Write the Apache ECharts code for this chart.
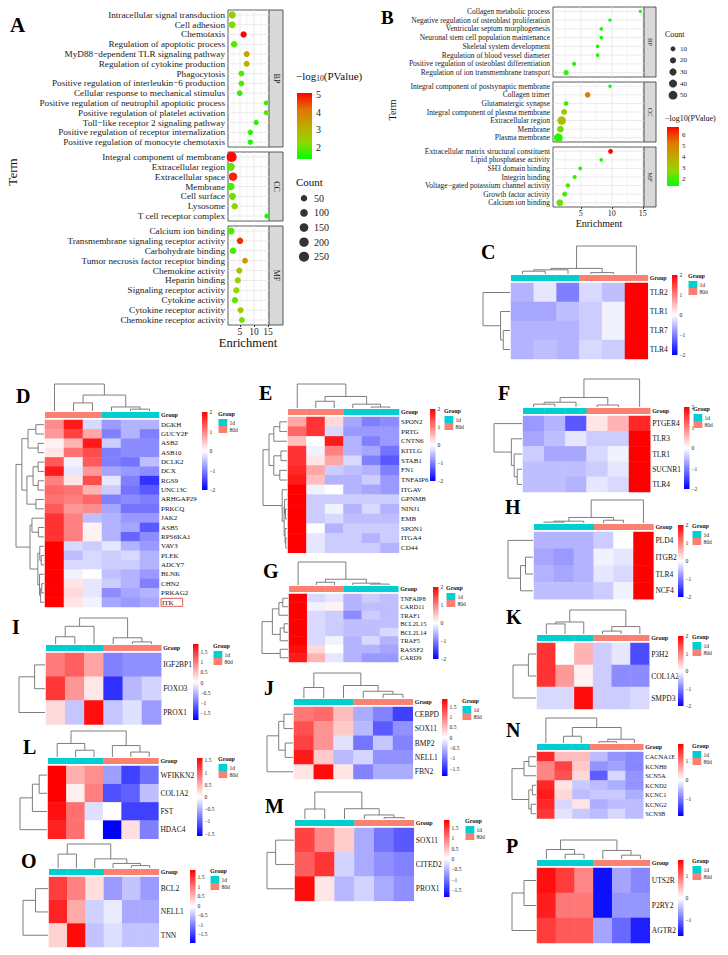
<!DOCTYPE html>
<html>
<head>
<meta charset="utf-8">
<script src="https://cdn.jsdelivr.net/npm/echarts@6/dist/echarts.min.js"></script>
<style>
  html, body { margin: 0; padding: 0; background: #fff; }
  #main { width: 728px; height: 955px; }
</style>
</head>
<body>
<div id="main"></div>
<script>
// ---------------- A: GO enrichment ----------------
var aBPTerms = ['Intracellular signal transduction', 'Cell adhesion', 'Chemotaxis', 'Regulation of apoptotic process',
    'MyD88\u2212dependent TLR signaling pathway', 'Regulation of cytokine production', 'Phagocytosis',
    'Positive regulation of interleukin\u22126 production', 'Cellular response to mechanical stimulus',
    'Positive regulation of neutrophil apoptotic process', 'Positive regulation of platelet activation',
    'Toll\u2212like receptor 2 signaling pathway', 'Positive regulation of receptor internalization',
    'Positive regulation of monocyte chemotaxis'];
var aBPEnrich = [2.2, 2.2, 6.3, 2.9, 7.4, 7.4, 5.5, 5.5, 4.9, 14.4, 14.4, 10.8, 8.7, 8.7];
var aBPCount = [80, 70, 45, 55, 35, 35, 30, 30, 28, 12, 12, 18, 20, 20];
var aBPLogP = [2.6, 2.2, 5.2, 1.9, 3.3, 3.0, 1.9, 1.9, 1.7, 1.7, 1.9, 1.6, 1.6, 1.5];

var aCCTerms = ['Integral component of membrane', 'Extracellular region', 'Extracellular space', 'Membrane',
    'Cell surface', 'Lysosome', 'T cell receptor complex'];
var aCCEnrich = [2.0, 1.7, 2.5, 1.7, 2.3, 3.1, 14.6];
var aCCCount = [250, 115, 140, 90, 70, 50, 13];
var aCCLogP = [5.0, 2.0, 4.8, 1.8, 2.1, 2.4, 1.5];

var aMFTerms = ['Calcium ion binding', 'Transmembrane signaling receptor activity', 'Carbohydrate binding',
    'Tumor necrosis factor receptor binding', 'Chemokine activity', 'Heparin binding', 'Signaling receptor activity',
    'Cytokine activity', 'Cytokine receptor activity', 'Chemokine receptor activity'];
var aMFEnrich = [1.8, 5.0, 2.5, 6.8, 4.75, 4.2, 3.7, 3.2, 5.2, 5.7];
var aMFCount = [70, 50, 55, 30, 40, 40, 45, 45, 35, 30];
var aMFLogP = [1.9, 4.7, 1.8, 3.5, 2.7, 2.5, 2.3, 2.0, 2.6, 2.1];

var aSizeLegend = [50, 100, 150, 200, 250];
var aColorTicks = [2, 3, 4, 5];

// ---------------- B: GO enrichment ----------------
var bBPTerms = ['Collagen metabolic process', 'Negative regulation of osteoblast proliferation',
    'Ventricular septum morphogenesis', 'Neuronal stem cell population maintenance', 'Skeletal system development',
    'Regulation of blood vessel diameter', 'Positive regulation of osteoblast differentiation',
    'Regulation of ion transmembrane transport'];
var bBPEnrich = [14.6, 9.7, 8.3, 8.3, 7.7, 7.7, 3.9, 2.6];
var bBPCount = [2, 2, 3, 3, 3, 3, 5, 12];
var bBPLogP = [1.5, 1.4, 1.5, 1.5, 1.6, 1.6, 1.7, 1.8];

var bCCTerms = ['Integral component of postsynaptic membrane', 'Collagen trimer', 'Glutamatergic synapse',
    'Integral component of plasma membrane', 'Extracellular region', 'Membrane', 'Plasma membrane'];
var bCCEnrich = [9.7, 6.1, 2.6, 2.3, 1.9, 1.7, 1.35];
var bCCCount = [2, 14, 8, 18, 48, 26, 50];
var bCCLogP = [1.4, 5.2, 1.9, 3.0, 3.4, 2.4, 1.7];

var bMFTerms = ['Extracellular matrix structural constituent', 'Lipid phosphatase activity', 'SH3 domain binding',
    'Integrin binding', 'Voltage\u2212gated potassium channel activity', 'Growth factor activity', 'Calcium ion binding'];
var bMFEnrich = [9.8, 8.3, 4.9, 4.0, 2.9, 2.4, 1.6];
var bMFCount = [9, 3, 4, 5, 7, 10, 25];
var bMFLogP = [6.6, 1.6, 1.6, 1.8, 2.0, 1.9, 2.3];

var bSizeLegend = [10, 20, 30, 40, 50];
var bColorTicks = [2, 3, 4, 5, 6];

// ---------------- heatmaps ----------------
var g1d = ['1d', '1d', '1d', '80d', '80d', '80d'];
var g80 = ['80d', '80d', '80d', '1d', '1d', '1d'];
var ticks2 = [2, 1, 0, -1, -2];
var ticks15 = [1.5, 1, 0.5, 0, -0.5, -1, -1.5];
var ticks1 = [1, 0, -1];

var cRows = ['TLR2', 'TLR1', 'TLR7', 'TLR4'];
var cVals = [[-0.6, -0.2, -1.0, -0.3, -0.5, 2.0], [-0.7, -0.7, -0.5, -0.4, -0.1, 2.0],
    [-0.6, -0.6, -0.6, -0.4, -0.1, 2.0], [-0.6, -0.5, -0.6, -0.3, -0.4, 2.0]];
var cColTree = [[[[0, 1, 0.1], 2, 0.15], [3, 4, 0.05], 0.2], 5, 1];
var cRowTree = [0, [1, [2, 3, 0.25], 0.35], 1];

var dRows = ['DGKH', 'GUCY2F', 'ASB2', 'ASB10', 'DCLK2', 'DCX', 'RGS9', 'UNC13C', 'ARHGAP29', 'PRKCQ',
    'JAK2', 'ASB5', 'RPS6KA1', 'VAV3', 'PLEK', 'ADCY7', 'BLNK', 'CHN2', 'PRKAG2', 'ITK'];
var dVals = [[0.9, 1.8, -0.3, -0.8, -0.6, -0.6], [0.8, 1.5, 0.7, -1.0, -0.6, -1.0], [0.1, 0.6, 1.8, -0.4, -0.9, -0.9],
    [0.2, 1.1, 1.4, -1.0, -0.9, -0.9], [1.3, -0.1, 1.3, -1.0, -1.1, -0.5], [1.8, -0.2, 0.8, -0.7, -0.8, -0.9],
    [1.0, 0.2, 1.4, -0.2, -1.0, -1.6], [1.2, 1.1, 0.6, -0.4, -1.1, -1.3], [1.1, 1.0, 1.2, -1.0, -0.9, -1.0],
    [1.3, 0.8, 0.9, -0.7, -1.1, -1.1], [1.6, 1.0, -0.5, -0.6, -0.8, -0.8], [1.6, 1.0, 0.1, -0.6, -0.7, -1.3],
    [1.6, 1.0, 0.1, -0.6, -1.2, -0.9], [2.0, -0.3, -0.4, -0.2, -0.6, -0.8], [2.0, -0.5, -0.3, -0.4, -0.3, -0.6],
    [2.0, -0.3, -0.3, -0.4, -0.4, -0.6], [2.0, -0.1, 0.0, -0.5, -0.6, -0.8], [2.0, 0.2, -0.2, -0.4, -0.6, -1.0],
    [2.0, 0.3, -0.2, -0.9, -0.7, -0.6], [2.0, 0.2, -0.1, -0.7, -0.8, -0.7]];
var dColTree = [0, [[1, 2, 0.3], [3, [4, 5, 0.07], 0.15], 0.59], 1];
var dRowTree = [[[[0, 1, 0.29], [2, 3, 0.21], 0.57], [[[4, 5, 0.21], [6, 7, 0.21], 0.39], [8, 9, 0.29], 0.61], 0.79],
    [[10, [11, 12, 0.2], 0.43], [[13, [14, 15, 0.1], 0.15], [16, [[17, 18, 0.08], 19, 0.12], 0.16], 0.22], 0.5], 1];

var eRows = ['SPON2', 'PRTG', 'CNTN6', 'KITLG', 'STAB1', 'FN1', 'TNFAIP6', 'ITGAV', 'GPNMB', 'NINJ1', 'EMB',
    'SPON1', 'ITGA4', 'CD44'];
var eVals = [[0.7, 1.6, 0.3, -0.7, -1.0, -0.9], [1.2, 1.6, -0.3, -0.8, -0.8, -0.8], [0.5, 0.0, 1.8, -0.6, -1.0, -0.8],
    [1.6, -0.1, 1.0, -0.6, -0.7, -1.1], [1.6, 0.2, 0.7, -0.3, -1.0, -1.3], [1.7, 0.7, -0.4, -0.5, -0.6, -1.0],
    [1.8, 0.5, -0.6, -0.6, -0.4, -0.8], [2.0, -0.1, 0.0, -0.6, -0.7, -0.8], [2.0, -0.4, -0.4, -0.4, -0.4, -0.4],
    [2.0, -0.4, -0.1, -0.6, -0.3, -0.6], [2.0, -0.4, -0.3, -0.5, -0.5, -0.5], [2.0, 0.0, -0.6, -0.4, -0.4, -0.4],
    [2.0, -0.2, -0.4, -0.4, -0.6, -0.4], [2.0, -0.2, -0.4, -0.4, -0.4, -0.6]];
var eColTree = [0, [[1, 2, 0.28], [3, [4, 5, 0.04], 0.16], 0.48], 1];
var eRowTree = [[[[0, 1, 0.3], 2, 0.55], [[3, 4, 0.25], [5, 6, 0.3], 0.55], 0.75],
    [7, [[8, [9, 10, 0.06], 0.1], [11, [12, 13, 0.05], 0.08], 0.12], 0.2], 1];

var fRows = ['PTGER4', 'TLR3', 'TLR1', 'SUCNR1', 'TLR4'];
var fVals = [[-0.8, -0.6, -1.3, 0.2, 0.6, 1.7], [-0.7, -0.5, -0.2, -0.4, -0.4, 2.0], [-0.4, -0.7, -0.7, -0.3, -0.1, 2.0],
    [-0.5, -0.5, -0.5, -0.4, -0.2, 2.0], [-0.5, -0.5, -0.6, -0.2, -0.3, 2.0]];
var fColTree = [[[[0, 1, 0.1], 2, 0.17], [3, 4, 0.07], 0.34], 5, 1];
var fRowTree = [0, [1, [2, [3, 4, 0.17], 0.28], 0.38], 1];

var gRows = ['TNFAIP8', 'CARD11', 'TRAF1', 'BCL2L15', 'BCL2L14', 'TRAF5', 'RASSF2', 'CARD9'];
var gVals = [[2.0, -0.3, -0.2, -0.6, -0.4, -0.5], [2.0, -0.1, 0.1, -0.6, -0.5, -0.5], [2.0, -0.3, -0.4, -0.9, -0.4, -0.5],
    [2.0, -0.3, -0.4, -0.5, -0.5, -0.5], [2.0, -0.3, -0.4, -0.5, -0.5, -0.3], [2.0, -0.3, -0.1, -0.6, -0.3, -0.6],
    [1.9, 0.3, 0.0, -0.6, -0.6, -0.7], [1.8, 0.6, -0.2, -0.6, -0.8, -0.8]];
var gColTree = [0, [[1, 2, 0.12], [3, [4, 5, 0.04], 0.08], 0.25], 1];
var gRowTree = [[[[0, 1, 0.2], 2, 0.35], [[3, 4, 0.15], 5, 0.3], 0.6], [6, 7, 0.3], 1];

var hRows = ['PLD4', 'ITGB2', 'TLR4', 'NCF4'];
var hVals = [[-0.6, -0.6, -0.6, -0.4, 0.0, 2.0], [-0.7, -0.8, -0.6, -0.1, -0.2, 2.0],
    [-0.6, -0.7, -0.6, -0.2, -0.3, 2.0], [-0.5, -0.5, -0.5, -0.4, -0.1, 2.0]];
var hColTree = [[[[0, 1, 0.04], 2, 0.08], [3, 4, 0.12], 0.24], 5, 1];
var hRowTree = [0, [[1, 2, 0.3], 3, 0.5], 1];

var iRows = ['IGF2BP1', 'FOXO3', 'PROX1'];
var iVals = [[1.0, 1.2, 0.7, -0.9, -0.8, -0.8], [1.5, 0.8, 0.2, -1.5, -0.5, -0.3], [0.3, -0.4, 1.8, -0.4, -0.2, -0.7]];
var iColTree = [[[0, 1, 0.28], 2, 0.68], [3, [4, 5, 0.08], 0.24], 1];
var iRowTree = [[0, 1, 0.4], 2, 1];

var jRows = ['CEBPD', 'SOX11', 'BMP2', 'NELL1', 'FBN2'];
var jVals = [[1.0, 1.1, 0.5, -0.6, -0.9, -1.4], [1.3, 0.8, 0.4, -0.5, -1.2, -0.8], [1.4, 0.8, -0.2, -1.0, -0.4, -0.9],
    [1.7, 0.4, -0.5, -0.3, -0.8, -0.8], [0.2, 1.8, 0.2, -0.9, -0.6, -0.6]];
var jColTree = [[0, 1, 0.42], [2, [3, [4, 5, 0.15], 0.27], 0.5], 1];
var jRowTree = [[[0, 1, 0.35], [2, 3, 0.3], 0.55], 4, 1];

var kRows = ['P3H2', 'COL1A2', 'SMPD3'];
var kVals = [[1.6, 0.0, 0.6, -0.4, -0.2, -1.4], [1.6, 0.8, 0.1, -0.4, -0.9, -0.9], [-0.3, -0.3, 1.9, -0.4, -0.4, -0.3]];
var kColTree = [[[0, 1, 0.42], 2, 0.5], [[3, 4, 0.12], 5, 0.31], 1];
var kRowTree = [[0, 1, 0.33], 2, 1];

var lRows = ['WFIKKN2', 'COL1A2', 'FST', 'HDAC4'];
var lVals = [[1.6, 0.5, 0.7, -0.6, -1.2, -0.9], [1.6, 0.1, 0.8, -1.1, -1.0, -0.4], [1.5, 0.9, -0.2, 0.0, -1.2, -1.2],
    [1.4, 0.9, 0.0, -1.6, 0.2, -0.8]];
var lColTree = [[0, [1, 2, 0.26], 0.52], [3, [4, 5, 0.19], 0.44], 1];
var lRowTree = [[[0, 1, 0.29], 2, 0.54], 3, 1];

var mRows = ['SOX11', 'CITED2', 'PROX1'];
var mVals = [[1.4, 0.9, 0.4, -0.6, -1.0, -1.2], [1.2, 1.5, -0.3, -0.6, -0.8, -0.9], [1.8, 0.2, -0.5, -0.3, -0.6, -0.8]];
var mColTree = [[0, 1, 0.37], [2, [3, [4, 5, 0.05], 0.15], 0.38], 1];
var mRowTree = [[0, 1, 0.68], 2, 1];

var nRows = ['CACNA1E', 'KCNH6', 'SCN5A', 'KCND2', 'KCNC1', 'KCNG2', 'SCN3B'];
var nVals = [[1.6, 0.5, 0.5, -0.5, -0.8, -0.9], [0.9, 1.4, 0.4, -0.8, -0.7, -0.9], [0.9, 1.3, 0.3, -1.2, -0.3, -0.8],
    [1.6, 0.2, -0.4, -0.5, -0.6, -0.8], [1.7, 0.3, -0.5, -0.4, -0.4, -0.6], [1.6, -0.3, 0.2, -0.6, -0.5, -0.5],
    [1.5, -0.2, -0.4, -0.5, -0.3, -0.5]];
var nColTree = [0, [[1, 2, 0.27], [[3, 4, 0.05], 5, 0.15], 0.62], 1];
var nRowTree = [[[0, 1, 0.3], 2, 0.5], [[3, 4, 0.15], [5, 6, 0.2], 0.3], 1];

var oRows = ['BCL2', 'NELL1', 'TNN'];
var oVals = [[1.4, 0.9, 0.2, -0.8, -0.5, -0.8], [1.6, 0.6, -0.4, -0.2, -0.7, -0.7], [0.3, 1.8, -0.5, -0.3, -0.5, -0.5]];
var oColTree = [[0, 1, 0.58], [2, [3, [4, 5, 0.1], 0.19], 0.38], 1];
var oRowTree = [[0, 1, 0.5], 2, 1];

var pRows = ['UTS2R', 'P2RY2', 'AGTR2'];
var pVals = [[1.6, 1.3, 0.8, -1.6, -0.6, -0.8], [1.5, 0.9, 0.9, -1.6, -0.7, -0.7], [1.3, 1.1, 1.1, -0.6, -1.0, -1.5]];
var pColTree = [[0, [1, 2, 0.25], 0.5], [3, [4, 5, 0.2], 0.45], 1];
var pRowTree = [[0, 1, 0.5], 2, 1];

// ---------------- builder ----------------
var SERIF = '"Liberation Serif", "Times New Roman", serif';
var GREEN_RED = ['#00FF00', '#8FD800', '#BFA900', '#E27400', '#FF0000'];
var BWR = ['#0000FF', '#FFFFFF', '#FF0000'];
var GROUP_COL = ['#00CED1', '#FA8072'];

var grids = [], xAxes = [], yAxes = [], series = [], visualMaps = [], graphics = [];

function addGrid(g) {
    g.containLabel = false;
    grids.push(g);
    return grids.length - 1;
}
function txt(x, y, s, o) {
    o = o || {};
    graphics.push({
        type: 'text', x: x, y: y, rotation: o.rot || 0, silent: true,
        style: {
            text: s, fill: o.color || '#111', fontFamily: SERIF, fontSize: o.fs || 10,
            fontWeight: o.bold ? 'bold' : 'normal', align: o.align || 'left', verticalAlign: o.va || 'top',
            rich: o.rich
        }
    });
}
function gradStops(cols) {
    return cols.map(function (c, i) { return {offset: i / (cols.length - 1), color: c}; });
}
function gradientBar(cols) {
    return function (params, api) {
        var cs = params.coordSys;
        return {
            type: 'rect', shape: {x: cs.x, y: cs.y, width: cs.width, height: cs.height},
            style: {fill: new echarts.graphic.LinearGradient(0, 1, 0, 0, gradStops(cols))}
        };
    };
}
function gridLineItem(params, api) {
    var cs = params.coordSys, k = api.value(2);
    if (k === 2) {
        var y = api.coord([api.value(0), api.value(1)])[1];
        return {type: 'line', shape: {x1: cs.x, y1: y, x2: cs.x + cs.width, y2: y}, style: {stroke: '#e6e6e6', lineWidth: 0.8}};
    }
    var x = api.coord([api.value(0), 0])[0];
    return {type: 'line', shape: {x1: x, y1: cs.y, x2: x, y2: cs.y + cs.height},
        style: {stroke: '#e6e6e6', lineWidth: k === 0 ? 0.8 : 0.4}};
}
function bandRect(params, api) {
    var c = api.coord([api.value(0), api.value(1)]);
    var s = api.size([1, 1]);
    return {type: 'rect', shape: {x: c[0] - s[0] / 2, y: c[1] - s[1] / 2, width: s[0] + 0.3, height: s[1]},
        style: {fill: GROUP_COL[api.value(2)]}};
}
function segItem(params, api) {
    var a = api.coord([api.value(0), api.value(1)]);
    var b = api.coord([api.value(2), api.value(3)]);
    return {type: 'line', shape: {x1: a[0], y1: a[1], x2: b[0], y2: b[1]}, style: {stroke: '#707070', lineWidth: 0.9}};
}
function treeSegs(tree) {
    var segs = [];
    function walk(node) {
        if (typeof node === 'number') return {pos: node, h: 0};
        var a = walk(node[0]), b = walk(node[1]), h = node[2];
        segs.push([a.pos, a.h, a.pos, h]);
        segs.push([b.pos, b.h, b.pos, h]);
        segs.push([a.pos, h, b.pos, h]);
        return {pos: (a.pos + b.pos) / 2, h: h};
    }
    walk(tree);
    return segs;
}

// one facet of a dot plot, with its grey strip
function dotFacet(f, scatterIdx) {
    var gi = addGrid({left: f.left, top: f.top, width: f.width, height: f.height, show: true,
        backgroundColor: '#fff', borderColor: '#333', borderWidth: 0.8});
    xAxes.push({gridIndex: gi, type: 'value', min: f.xMin, max: f.xMax, splitLine: {show: false},
        axisLine: {show: false},
        axisTick: {show: !!f.bottom, customValues: [5, 10, 15], length: 2, lineStyle: {color: '#333'}},
        axisLabel: {show: !!f.bottom, customValues: [5, 10, 15], fontFamily: SERIF, fontSize: f.tickFs,
            color: '#222', margin: 2}});
    yAxes.push({gridIndex: gi, type: 'category', inverse: true, data: f.terms, axisLine: {show: false},
        axisTick: {length: 2, alignWithLabel: true, interval: 0, lineStyle: {color: '#333', width: 0.8}},
        axisLabel: {interval: 0, fontFamily: SERIF, fontSize: f.fs, color: '#1a1a1a', margin: 3},
        splitLine: {show: false}});
    var gl = [];
    [2.5, 7.5, 12.5].forEach(function (v) { gl.push([v, 0, 1]); });
    [5, 10, 15].forEach(function (v) { gl.push([v, 0, 0]); });
    f.terms.forEach(function (t, i) { gl.push([f.xMin, i, 2]); });
    series.push({type: 'custom', xAxisIndex: gi, yAxisIndex: gi, silent: true, z: 1, data: gl,
        encode: {x: 0, y: 1}, renderItem: gridLineItem});
    var pts = f.terms.map(function (t, i) { return [f.x[i], i, f.count[i], f.logp[i]]; });
    scatterIdx.push(series.length);
    series.push({type: 'scatter', xAxisIndex: gi, yAxisIndex: gi, z: 3, data: pts,
        symbolSize: function (v) { return f.size(v[2]); }, itemStyle: {opacity: 1}});
    // strip
    var si = addGrid({left: f.left + f.width, top: f.top, width: f.stripW, height: f.height, show: true,
        backgroundColor: '#d9d9d9', borderColor: '#333', borderWidth: 0.8});
    xAxes.push({gridIndex: si, type: 'value', show: false});
    yAxes.push({gridIndex: si, type: 'value', show: false});
    txt(f.left + f.width + f.stripW / 2, f.top + f.height / 2, f.facet,
        {fs: f.stripFs, color: '#1a1a1a', align: 'center', va: 'middle', rot: -Math.PI / 2});
}

function colorBar(left, top, w, h, min, max, ticks, cols, fs, margin) {
    var ci = addGrid({left: left, top: top, width: w, height: h});
    xAxes.push({gridIndex: ci, type: 'value', min: 0, max: 1, show: false});
    yAxes.push({gridIndex: ci, type: 'value', min: min, max: max, position: 'right',
        axisLine: {show: false}, axisTick: {show: false}, splitLine: {show: false},
        axisLabel: {customValues: ticks, fontFamily: SERIF, fontSize: fs, color: '#222', margin: margin,
            formatter: function (v) { return String(v).replace('-', '\u2212'); }}});
    series.push({type: 'custom', xAxisIndex: ci, yAxisIndex: ci, silent: true, data: [[0.5, min]],
        renderItem: gradientBar(cols)});
}

function sizeLegend(left, top, w, h, vals, sizeFn, fs, margin) {
    var li = addGrid({left: left, top: top, width: w, height: h});
    xAxes.push({gridIndex: li, type: 'value', min: -1, max: 1, show: false});
    yAxes.push({gridIndex: li, type: 'category', inverse: true, position: 'right', data: vals.map(String),
        axisLine: {show: false}, axisTick: {show: false},
        axisLabel: {interval: 0, fontFamily: SERIF, fontSize: fs, color: '#222', margin: margin}});
    series.push({type: 'scatter', xAxisIndex: li, yAxisIndex: li, silent: true,
        data: vals.map(function (v, i) { return [0, i, v]; }),
        symbolSize: function (v) { return sizeFn(v[2]); }, itemStyle: {color: '#000'}});
}

function heatPanel(name, L, rows, vals, groups, colTree, rowTree, cbMin, cbMax, ticks, boxed) {
    var n = rows.length, W = 6 * L.cw, H = n * L.ch;
    var cols = ['c1', 'c2', 'c3', 'c4', 'c5', 'c6'];
    txt(L.lbl[0], L.lbl[1], name, {fs: 20, bold: true, color: '#000'});
    // cells
    var gi = addGrid({left: L.left, top: L.top, width: W, height: H});
    xAxes.push({gridIndex: gi, type: 'category', data: cols, show: false});
    yAxes.push({gridIndex: gi, type: 'category', data: rows, inverse: true, position: 'right',
        axisLine: {show: false}, axisTick: {show: false}, splitLine: {show: false},
        axisLabel: {interval: 0, fontFamily: SERIF, fontSize: L.fs, color: '#111', margin: 2,
            formatter: function (v) { return v === boxed ? '{box|' + v + '}' : v; },
            rich: {box: {fontFamily: SERIF, fontSize: L.fs, color: '#111', borderColor: '#e0302a', borderWidth: 0.8,
                padding: [1, 9, 0, 1]}}}});
    var cells = [];
    vals.forEach(function (r, ri) { r.forEach(function (v, c) { cells.push([c, ri, v]); }); });
    visualMaps.push({type: 'continuous', show: false, seriesIndex: series.length, dimension: 2,
        min: cbMin, max: cbMax, inRange: {color: BWR}});
    series.push({type: 'heatmap', xAxisIndex: gi, yAxisIndex: gi, data: cells, silent: true,
        itemStyle: {borderWidth: 0}});
    // group annotation bar
    var bi = addGrid({left: L.left, top: L.top - 8, width: W, height: 6});
    xAxes.push({gridIndex: bi, type: 'category', data: cols, show: false});
    yAxes.push({gridIndex: bi, type: 'category', data: ['Group'], position: 'right',
        axisLine: {show: false}, axisTick: {show: false},
        axisLabel: {interval: 0, fontFamily: SERIF, fontSize: 6, fontWeight: 'bold', color: '#111', margin: 2}});
    series.push({type: 'custom', xAxisIndex: bi, yAxisIndex: bi, silent: true,
        data: groups.map(function (g, c) { return [c, 0, g === '1d' ? 0 : 1]; }), renderItem: bandRect});
    // column dendrogram
    var ci = addGrid({left: L.left, top: L.dTop, width: W, height: (L.top - 9) - L.dTop});
    xAxes.push({gridIndex: ci, type: 'value', min: -0.5, max: 5.5, show: false});
    yAxes.push({gridIndex: ci, type: 'value', min: 0, max: 1, show: false});
    series.push({type: 'custom', xAxisIndex: ci, yAxisIndex: ci, silent: true, data: treeSegs(colTree),
        encode: {x: [0, 2], y: [1, 3]}, renderItem: segItem});
    // row dendrogram
    var ri = addGrid({left: L.rdLeft, top: L.top, width: L.left - 1 - L.rdLeft, height: H});
    xAxes.push({gridIndex: ri, type: 'value', min: 0, max: 1, inverse: true, show: false});
    yAxes.push({gridIndex: ri, type: 'value', min: -0.5, max: n - 0.5, inverse: true, show: false});
    series.push({type: 'custom', xAxisIndex: ri, yAxisIndex: ri, silent: true,
        data: treeSegs(rowTree).map(function (s) { return [s[1], s[0], s[3], s[2]]; }),
        encode: {x: [0, 2], y: [1, 3]}, renderItem: segItem});
    // colour key
    colorBar(L.cb[0], L.cb[1], 5.5, L.cb[2], cbMin, cbMax, ticks, BWR, 5.5, 2);
    // group key
    txt(L.lg[0], L.lg[1], 'Group', {fs: 6, bold: true});
    var lg = addGrid({left: L.lg[0] + 0.5, top: L.lg[1] + 8, width: 8.5, height: 14});
    xAxes.push({gridIndex: lg, type: 'category', data: ['k'], show: false});
    yAxes.push({gridIndex: lg, type: 'category', data: ['1d', '80d'], inverse: true, position: 'right',
        axisLine: {show: false}, axisTick: {show: false},
        axisLabel: {interval: 0, hideOverlap: false, fontFamily: SERIF, fontSize: 5.5, color: '#222', margin: 2.5}});
    series.push({type: 'custom', xAxisIndex: lg, yAxisIndex: lg, silent: true,
        data: [[0, 0, 0], [0, 1, 1]], renderItem: bandRect});
}

// ---------------- panel A ----------------
var sizeA = function (c) { return 3.5 + 0.42 * Math.sqrt(c); };
var aIdx = [];
txt(10, 14, 'A', {fs: 21, bold: true, color: '#000'});
var aBase = {left: 228, width: 41, stripW: 14, xMin: 0.7, xMax: 15.4, fs: 9.2, tickFs: 9.5, stripFs: 8, size: sizeA};
dotFacet(Object.assign({}, aBase, {top: 10, height: 137, terms: aBPTerms, x: aBPEnrich, count: aBPCount, logp: aBPLogP, facet: 'BP'}), aIdx);
dotFacet(Object.assign({}, aBase, {top: 152, height: 69, terms: aCCTerms, x: aCCEnrich, count: aCCCount, logp: aCCLogP, facet: 'CC'}), aIdx);
dotFacet(Object.assign({}, aBase, {top: 226, height: 99, terms: aMFTerms, x: aMFEnrich, count: aMFCount, logp: aMFLogP, facet: 'MF', bottom: true}), aIdx);
visualMaps.push({type: 'continuous', show: false, seriesIndex: aIdx, dimension: 3, min: 1.37, max: 5.07,
    inRange: {color: GREEN_RED}});
txt(12, 172, 'Term', {fs: 13, align: 'center', va: 'middle', rot: Math.PI / 2});
txt(248, 336, 'Enrichment', {fs: 12.5, align: 'center'});
txt(296, 69, '{a|\u2212log}{s|10}{a|(PValue)}', {rich: {a: {fontFamily: SERIF, fontSize: 11, color: '#111'},
    s: {fontFamily: SERIF, fontSize: 7.5, color: '#111', padding: [5, 0, 0, 0]}}});
colorBar(297, 93, 15, 66, 1.37, 5.07, aColorTicks, GREEN_RED, 10, 4);
txt(296, 176, 'Count', {fs: 11});
sizeLegend(299, 191, 10, 73, aSizeLegend, sizeA, 10, 5);

// ---------------- panel B ----------------
var sizeB = function (c) { return 2 + 0.95 * Math.sqrt(c); };
var bIdx = [];
txt(381, 8, 'B', {fs: 19, bold: true, color: '#000'});
var bBase = {left: 553, width: 91, stripW: 12, xMin: 0.5, xMax: 15.2, fs: 7.5, tickFs: 8, stripFs: 6.5, size: sizeB};
dotFacet(Object.assign({}, bBase, {top: 7, height: 70, terms: bBPTerms, x: bBPEnrich, count: bBPCount, logp: bBPLogP, facet: 'BP'}), bIdx);
dotFacet(Object.assign({}, bBase, {top: 82, height: 60, terms: bCCTerms, x: bCCEnrich, count: bCCCount, logp: bCCLogP, facet: 'CC'}), bIdx);
dotFacet(Object.assign({}, bBase, {top: 147, height: 60, terms: bMFTerms, x: bMFEnrich, count: bMFCount, logp: bMFLogP, facet: 'MF', bottom: true}), bIdx);
visualMaps.push({type: 'continuous', show: false, seriesIndex: bIdx, dimension: 3, min: 1.34, max: 6.7,
    inRange: {color: GREEN_RED}});
txt(392, 110, 'Term', {fs: 10, align: 'center', va: 'middle', rot: Math.PI / 2});
txt(599, 218, 'Enrichment', {fs: 10, align: 'center'});
txt(665, 30, 'Count', {fs: 8});
sizeLegend(669, 43, 8, 58, bSizeLegend, sizeB, 7, 3);
txt(665, 114, '\u2212log10(PValue)', {fs: 8});
colorBar(667, 127, 12, 59, 1.34, 6.7, bColorTicks, GREEN_RED, 7, 3);

// ---------------- heatmap panels ----------------
var heatLayout = {
    C: {lbl: [481, 242], left: 511, top: 283, cw: 22.8, ch: 19, dTop: 246, rdLeft: 483, cb: [672, 275, 80], lg: [688, 273], fs: 7.5},
    D: {lbl: [16, 386], left: 45, top: 420, cw: 19, ch: 9.35, dTop: 384, rdLeft: 16, cb: [202, 412, 78], lg: [218, 411], fs: 7},
    E: {lbl: [259, 383], left: 288, top: 417, cw: 18.5, ch: 9.7, dTop: 384, rdLeft: 263, cb: [430, 409, 72], lg: [444, 408], fs: 7},
    F: {lbl: [498, 383], left: 523, top: 416, cw: 21.2, ch: 15.2, dTop: 379, rdLeft: 494, cb: [684, 407, 82], lg: [693, 406], fs: 7.5},
    G: {lbl: [263, 561], left: 289, top: 594, cw: 18.2, ch: 8.5, dTop: 562, rdLeft: 262, cb: [433, 587, 72], lg: [446, 585], fs: 6.5},
    H: {lbl: [505, 497], left: 534, top: 532, cw: 19.9, ch: 16.8, dTop: 500, rdLeft: 508, cb: [678, 525, 72], lg: [692, 523], fs: 7.5},
    I: {lbl: [12, 617], left: 46, top: 653, cw: 19.2, ch: 23.8, dTop: 618, rdLeft: 19, cb: [193, 644, 76], lg: [213, 643], fs: 7.5},
    J: {lbl: [264, 678], left: 294, top: 707, cw: 19.8, ch: 14.4, dTop: 673, rdLeft: 267, cb: [442, 699, 77], lg: [462, 698], fs: 7.5},
    K: {lbl: [506, 607], left: 537, top: 643, cw: 18.7, ch: 22, dTop: 610, rdLeft: 513, cb: [678, 636, 70], lg: [692, 634], fs: 7.5},
    L: {lbl: [23, 737], left: 48, top: 766, cw: 18.4, ch: 18.2, dTop: 731, rdLeft: 20, cb: [197, 758, 78], lg: [218, 756], fs: 7.5},
    M: {lbl: [265, 796], left: 295, top: 828, cw: 19.8, ch: 24.3, dTop: 792, rdLeft: 267, cb: [444, 820, 77], lg: [465, 818], fs: 7.5},
    N: {lbl: [506, 720], left: 537, top: 752, cw: 17.7, ch: 9.5, dTop: 718, rdLeft: 512, cb: [678, 744, 72], lg: [692, 743], fs: 6.5},
    O: {lbl: [21, 851], left: 49, top: 877, cw: 18.3, ch: 23.3, dTop: 844, rdLeft: 23, cb: [190, 870, 73], lg: [210, 868], fs: 7.5},
    P: {lbl: [506, 836], left: 537, top: 868, cw: 18.8, ch: 25, dTop: 840, rdLeft: 512, cb: [678, 860, 76], lg: [692, 858], fs: 7.5}
};

heatPanel('C', heatLayout.C, cRows, cVals, g1d, cColTree, cRowTree, -2, 2, ticks2);
heatPanel('D', heatLayout.D, dRows, dVals, g80, dColTree, dRowTree, -2, 2, ticks2, 'ITK');
heatPanel('E', heatLayout.E, eRows, eVals, g80, eColTree, eRowTree, -2, 2, ticks2);
heatPanel('F', heatLayout.F, fRows, fVals, g1d, fColTree, fRowTree, -2, 2, ticks2);
heatPanel('G', heatLayout.G, gRows, gVals, g80, gColTree, gRowTree, -2, 2, ticks2);
heatPanel('H', heatLayout.H, hRows, hVals, g1d, hColTree, hRowTree, -2, 2, ticks2);
heatPanel('I', heatLayout.I, iRows, iVals, g1d, iColTree, iRowTree, -1.85, 1.9, ticks15);
heatPanel('J', heatLayout.J, jRows, jVals, g1d, jColTree, jRowTree, -1.86, 1.88, ticks15);
heatPanel('K', heatLayout.K, kRows, kVals, g1d, kColTree, kRowTree, -2, 2, ticks2);
heatPanel('L', heatLayout.L, lRows, lVals, g1d, lColTree, lRowTree, -1.6, 1.6, ticks15);
heatPanel('M', heatLayout.M, mRows, mVals, g1d, mColTree, mRowTree, -1.85, 1.89, ticks15);
heatPanel('N', heatLayout.N, nRows, nVals, g1d, nColTree, nRowTree, -1.9, 1.9, ticks1);
heatPanel('O', heatLayout.O, oRows, oVals, g1d, oColTree, oRowTree, -1.97, 1.87, ticks15);
heatPanel('P', heatLayout.P, pRows, pVals, g1d, pColTree, pRowTree, -1.7, 1.7, ticks1);

var chart = echarts.init(document.getElementById('main'), null, {renderer: 'svg'});
chart.setOption({
    backgroundColor: '#fff',
    animation: false,
    grid: grids,
    xAxis: xAxes,
    yAxis: yAxes,
    visualMap: visualMaps,
    graphic: {elements: graphics},
    series: series
});
</script>
</body>
</html>
